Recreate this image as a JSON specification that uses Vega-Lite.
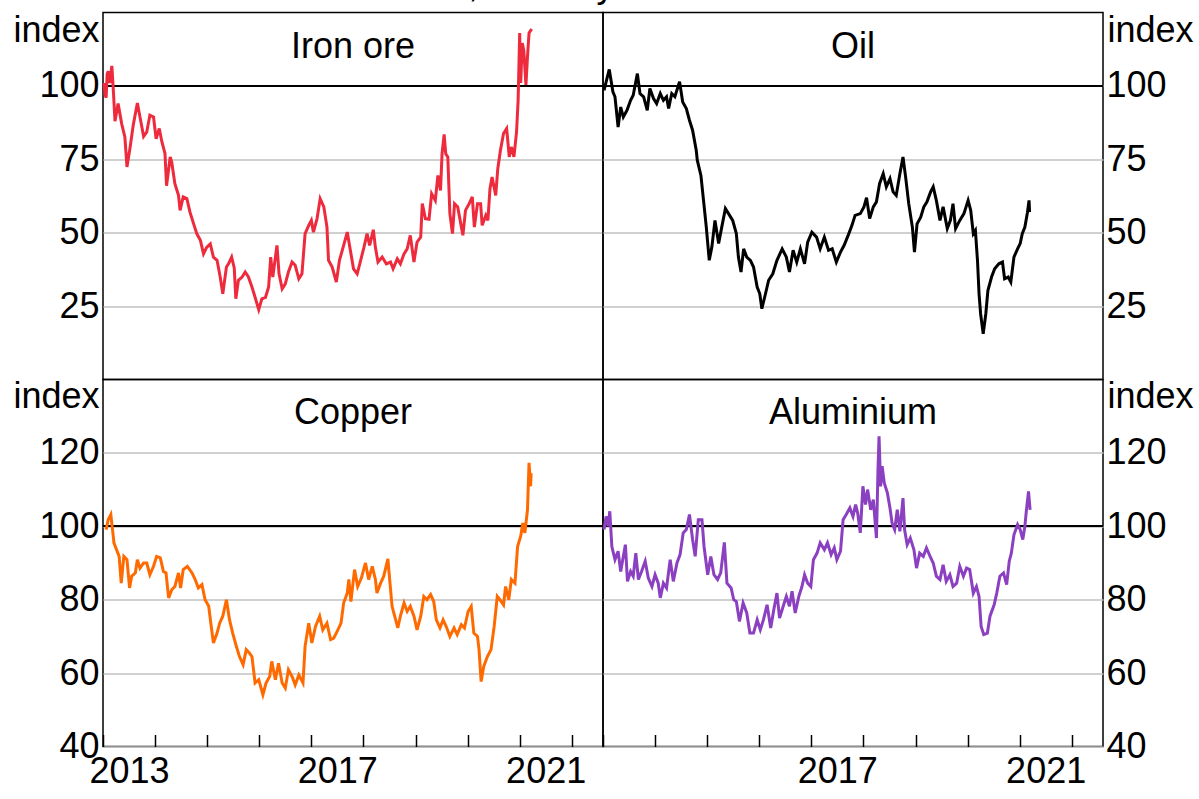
{
  "$schema": "https://vega.github.io/schema/vega-lite/v6.json",
  "background": "white",
  "padding": {"left": 12, "top": -32.5, "right": 0, "bottom": 0},
  "title": {"text": "Metal and oil indices, monthly", "anchor": "start", "frame": "bounds", "dx": 130, "baseline": "alphabetic", "offset": -21, "fontSize": 36, "fontWeight": "normal"},
  "columns": 2,
  "spacing": 0,
  "bounds": "flush",
  "config": {
    "font": "Liberation Sans",
    "view": {"stroke": "black", "strokeWidth": 1.5},
    "concat": {"spacing": 0},
    "axis": {"labelFont": "Liberation Sans", "labelFontSize": 36, "labelColor": "black", "titleFont": "Liberation Sans", "titleFontSize": 36, "titleFontWeight": "normal", "titleColor": "black"},
    "title": {"font": "Liberation Sans", "fontSize": 36, "fontWeight": "normal", "color": "black"}
  },
  "datasets": {
    "iron": [[2013.02,101],[2013.04,97],[2013.06,96],[2013.08,104],[2013.10,105],[2013.13,101],[2013.17,106.8],[2013.20,98],[2013.23,88],[2013.29,94],[2013.36,87],[2013.42,82.6],[2013.46,72.4],[2013.52,79],[2013.58,86.6],[2013.66,94.2],[2013.71,89.4],[2013.78,82.8],[2013.84,84.3],[2013.90,90],[2013.97,89.4],[2014.02,82],[2014.08,85.5],[2014.13,81],[2014.19,77],[2014.22,66],[2014.29,75.8],[2014.32,74],[2014.38,66.7],[2014.45,62.7],[2014.48,57.6],[2014.54,62.2],[2014.61,61.6],[2014.67,57],[2014.74,53],[2014.80,49.7],[2014.87,47.4],[2014.93,42.8],[2014.99,45],[2015.06,46.2],[2015.12,41.7],[2015.19,40.6],[2015.25,34.9],[2015.30,29.2],[2015.37,38.3],[2015.41,39.4],[2015.47,41.7],[2015.52,38],[2015.55,27.5],[2015.60,33.8],[2015.67,34.9],[2015.73,36.6],[2015.79,35],[2015.86,31.5],[2015.92,28],[2015.99,23.8],[2016.05,27.5],[2016.12,28],[2016.18,31.5],[2016.22,41.7],[2016.26,34.9],[2016.34,45.7],[2016.38,36],[2016.44,30.9],[2016.50,32.6],[2016.56,36.6],[2016.63,40],[2016.69,38.9],[2016.76,34.3],[2016.82,36],[2016.88,49.7],[2016.95,52.5],[2017.00,54.2],[2017.04,50.2],[2017.11,54.8],[2017.17,61.6],[2017.24,58.8],[2017.30,51.9],[2017.33,40.6],[2017.40,38.3],[2017.48,33.2],[2017.54,40.6],[2017.61,45],[2017.69,50.2],[2017.74,45],[2017.81,37.7],[2017.88,36],[2017.93,39.4],[2018.01,45],[2018.07,49.7],[2018.12,45.7],[2018.19,51],[2018.23,45],[2018.28,40],[2018.36,41.7],[2018.44,39.4],[2018.52,40],[2018.57,37.7],[2018.65,41.1],[2018.71,39.4],[2018.78,42.8],[2018.84,44.5],[2018.90,49.1],[2018.97,40],[2019.03,46.8],[2019.10,48.5],[2019.13,59.9],[2019.19,54.8],[2019.26,54.6],[2019.31,63.3],[2019.38,61],[2019.43,69.5],[2019.48,64.4],[2019.51,76.9],[2019.55,83.5],[2019.58,76.9],[2019.62,75.8],[2019.66,56.5],[2019.71,49.7],[2019.75,59.9],[2019.81,58.8],[2019.87,53],[2019.91,49.1],[2019.96,57.6],[2020.03,59.9],[2020.09,62.2],[2020.13,51.9],[2020.19,59.9],[2020.25,59.9],[2020.28,52.5],[2020.35,55.9],[2020.39,54.2],[2020.43,65],[2020.47,69],[2020.54,62.7],[2020.58,71.8],[2020.63,78],[2020.69,83.8],[2020.75,85.5],[2020.80,75.8],[2020.84,79.2],[2020.89,75.8],[2020.94,84.3],[2020.97,95],[2020.99,110],[2021.00,118],[2021.02,101],[2021.05,114.6],[2021.08,112],[2021.12,100.3],[2021.15,109.9],[2021.18,118],[2021.23,119.4]],
    "oil": [[2013.02,98.5],[2013.06,101.4],[2013.12,105.6],[2013.19,98],[2013.23,96.3],[2013.29,86],[2013.34,92.8],[2013.39,89.4],[2013.46,91.7],[2013.53,95.1],[2013.58,96.8],[2013.66,104.2],[2013.71,97.4],[2013.78,96.3],[2013.85,91.7],[2013.90,99.1],[2013.97,95.7],[2014.03,94],[2014.10,97.4],[2014.16,95.1],[2014.22,96.3],[2014.26,92.3],[2014.32,97.4],[2014.38,96.3],[2014.47,101.4],[2014.53,94.5],[2014.60,92.3],[2014.66,88.3],[2014.72,84.9],[2014.79,78.1],[2014.81,74.7],[2014.88,69.5],[2014.93,61],[2014.98,52.5],[2015.04,40.6],[2015.09,45.1],[2015.15,54.2],[2015.22,46.3],[2015.28,51.9],[2015.35,58.2],[2015.41,56.5],[2015.49,54.2],[2015.56,49.7],[2015.60,41.7],[2015.65,36.6],[2015.70,44.5],[2015.76,41.7],[2015.83,40.6],[2015.89,38.3],[2015.96,31.5],[2016.01,29.2],[2016.05,24.1],[2016.12,29.2],[2016.18,33.8],[2016.26,36],[2016.34,40.6],[2016.44,44.5],[2016.52,41.7],[2016.58,36.6],[2016.65,44],[2016.72,40],[2016.79,44.5],[2016.87,39.4],[2016.93,46.8],[2017.01,50.2],[2017.10,48.5],[2017.17,44.5],[2017.25,48.5],[2017.33,44],[2017.40,44.5],[2017.48,40],[2017.56,43.4],[2017.63,45.7],[2017.72,49.7],[2017.78,52.5],[2017.84,55.9],[2017.94,56.5],[2018.01,58.8],[2018.06,61.9],[2018.12,54.8],[2018.19,58.8],[2018.25,60.5],[2018.31,66.7],[2018.38,70.1],[2018.44,65.6],[2018.51,68.4],[2018.57,63.9],[2018.63,62.7],[2018.70,70.1],[2018.76,75.8],[2018.81,69],[2018.87,59.9],[2018.94,51.9],[2018.98,43.4],[2019.03,53],[2019.10,55.3],[2019.16,58.8],[2019.22,60.5],[2019.29,63.9],[2019.34,65.6],[2019.40,61],[2019.47,54.2],[2019.53,58.8],[2019.61,51.4],[2019.67,54.2],[2019.72,59.9],[2019.77,51.4],[2019.85,54.2],[2019.93,56.5],[2020.01,61],[2020.06,57.6],[2020.11,49.7],[2020.15,50.8],[2020.19,40.6],[2020.22,29.2],[2020.25,22.4],[2020.30,15.6],[2020.35,22.4],[2020.39,30.3],[2020.46,34.9],[2020.52,37.7],[2020.60,39.4],[2020.67,40],[2020.71,34.3],[2020.78,34.9],[2020.83,33.2],[2020.89,41.7],[2020.96,44.5],[2021.01,46.3],[2021.05,49.7],[2021.10,51.9],[2021.15,57],[2021.18,61],[2021.19,57]],
    "copper": [[2013.06,99.1],[2013.10,101.8],[2013.15,103.2],[2013.19,98.2],[2013.21,95.5],[2013.26,93.6],[2013.31,91.8],[2013.35,84.5],[2013.40,91.8],[2013.46,90.9],[2013.51,83.2],[2013.55,86.4],[2013.62,87.3],[2013.66,90.9],[2013.71,88.6],[2013.78,90],[2013.84,90],[2013.90,86.8],[2013.97,89.1],[2014.03,91.8],[2014.10,91.4],[2014.16,87.7],[2014.21,87.3],[2014.26,80.5],[2014.32,82.7],[2014.38,83.6],[2014.45,87.3],[2014.49,83.2],[2014.54,88.2],[2014.62,89.1],[2014.71,87.3],[2014.77,85.5],[2014.83,83.2],[2014.90,84.1],[2014.96,80],[2015.03,78.2],[2015.07,73.6],[2015.12,68.2],[2015.19,70.9],[2015.24,73.6],[2015.30,75.5],[2015.37,80],[2015.43,74.5],[2015.49,70.9],[2015.56,67.3],[2015.62,64.5],[2015.69,62.3],[2015.75,66.4],[2015.81,65.5],[2015.86,64.5],[2015.92,57.3],[2015.99,58.2],[2016.07,54.1],[2016.13,57.3],[2016.20,59.1],[2016.24,63.2],[2016.31,58.2],[2016.37,62.7],[2016.44,57.3],[2016.50,55.9],[2016.56,60.9],[2016.63,59.1],[2016.69,56.8],[2016.76,59.5],[2016.84,57.3],[2016.88,67.3],[2016.95,73.6],[2017.01,68.2],[2017.08,72.7],[2017.16,75.5],[2017.22,71.8],[2017.30,73.6],[2017.37,69.1],[2017.43,69.5],[2017.51,71.8],[2017.57,73.6],[2017.62,79.1],[2017.69,81.8],[2017.72,85.5],[2017.76,79.5],[2017.83,88.2],[2017.89,83.6],[2017.96,85.9],[2018.04,90],[2018.10,85.5],[2018.17,89.1],[2018.23,85.5],[2018.26,81.8],[2018.33,84.5],[2018.39,86.4],[2018.47,91.1],[2018.51,84.5],[2018.55,78.2],[2018.60,75.5],[2018.66,72.3],[2018.71,75.5],[2018.78,79.1],[2018.84,76.8],[2018.90,78.2],[2018.97,75.5],[2019.03,71.8],[2019.10,75.5],[2019.16,80.9],[2019.22,80],[2019.29,81.4],[2019.35,79.5],[2019.40,74.5],[2019.47,72.3],[2019.53,74.5],[2019.59,72.7],[2019.66,70],[2019.74,72.3],[2019.80,70.5],[2019.88,73.2],[2019.94,72.3],[2020.01,76.8],[2020.07,78.2],[2020.12,70.9],[2020.19,70],[2020.22,66.4],[2020.26,57.7],[2020.31,61.8],[2020.38,64.5],[2020.45,66.4],[2020.51,72.7],[2020.57,80.9],[2020.62,80],[2020.69,78.6],[2020.73,83.6],[2020.79,80],[2020.84,85.5],[2020.91,84.5],[2020.96,94.5],[2021.02,97.3],[2021.06,100.9],[2021.10,98.2],[2021.15,104.5],[2021.18,117.3],[2021.21,110.9],[2021.22,114.5]],
    "alum": [[2013.02,99.1],[2013.06,102.7],[2013.10,100],[2013.13,104.1],[2013.17,94.5],[2013.23,90.9],[2013.29,93.2],[2013.34,87.7],[2013.39,91.8],[2013.43,95],[2013.47,85],[2013.53,87.7],[2013.58,86.4],[2013.63,92.7],[2013.68,85.5],[2013.74,87.7],[2013.81,90.5],[2013.87,85.9],[2013.94,83.6],[2014.00,86.8],[2014.06,84.5],[2014.10,80.5],[2014.16,84.5],[2014.22,83.2],[2014.29,90.9],[2014.35,85],[2014.42,90],[2014.48,92.3],[2014.54,98.2],[2014.60,99.1],[2014.66,103.2],[2014.72,96.4],[2014.77,91.8],[2014.83,101.8],[2014.90,101.8],[2014.94,94.5],[2015.01,86.8],[2015.07,91.8],[2015.13,86.8],[2015.20,85.5],[2015.26,87.3],[2015.33,95.6],[2015.38,84.5],[2015.46,83.2],[2015.51,80],[2015.56,79.5],[2015.62,74.1],[2015.69,79.1],[2015.76,76.4],[2015.82,70.9],[2015.89,70.9],[2015.96,74.5],[2016.02,71.8],[2016.08,74.5],[2016.15,78.6],[2016.22,72.3],[2016.28,77.3],[2016.34,81.8],[2016.39,75],[2016.46,78.2],[2016.52,80.9],[2016.58,78.2],[2016.63,82.3],[2016.69,76.4],[2016.76,80.9],[2016.82,83.6],[2016.87,86.8],[2016.93,84.5],[2016.99,83.6],[2017.04,90.9],[2017.11,92.7],[2017.17,95.5],[2017.25,93.6],[2017.31,95.5],[2017.38,92.3],[2017.44,94.1],[2017.49,90.9],[2017.56,93.2],[2017.61,101.8],[2017.67,103.2],[2017.74,105],[2017.80,102.7],[2017.85,105.9],[2017.89,103.6],[2017.94,98.2],[2017.99,110.9],[2018.04,105.9],[2018.08,110],[2018.14,104.5],[2018.19,107.3],[2018.25,96.8],[2018.28,115.5],[2018.30,124.5],[2018.33,110.9],[2018.36,116.4],[2018.40,111.8],[2018.46,109.1],[2018.51,105],[2018.55,100.9],[2018.60,99.1],[2018.65,104.5],[2018.70,98.6],[2018.76,107.7],[2018.79,99.1],[2018.84,95],[2018.90,96.8],[2018.97,93.6],[2019.02,88.6],[2019.08,92.7],[2019.15,91.8],[2019.21,94.1],[2019.28,91.8],[2019.34,90],[2019.40,86.4],[2019.47,85.5],[2019.53,89.5],[2019.59,85],[2019.66,86.8],[2019.72,83.6],[2019.79,84.5],[2019.85,89.1],[2019.92,86.4],[2019.98,88.6],[2020.04,88.2],[2020.11,81.8],[2020.17,83.6],[2020.22,80.9],[2020.26,72.7],[2020.31,70.5],[2020.38,70.9],[2020.43,75.5],[2020.51,78.6],[2020.56,81.8],[2020.62,86.4],[2020.69,87.3],[2020.75,84.1],[2020.80,90.5],[2020.84,92.7],[2020.89,97.7],[2020.96,100.5],[2021.01,99.1],[2021.06,96.4],[2021.10,100],[2021.13,104.5],[2021.17,109.5],[2021.20,104.5]]
  },
  "concat": [
    {
      "width": 500, "height": 367,
      "title": {"text": "Iron ore", "offset": -53},
      "data": {"name": "iron"},
      "transform": [{"calculate": "datum[0]", "as": "t"}, {"calculate": "datum[1]", "as": "v"}],
      "layer": [
        {"mark": {"type": "rule", "color": "black", "strokeWidth": 1.5}, "encoding": {"y": {"datum": 100, "type": "quantitative"}}},
        {"mark": {"type": "line", "color": "#EE2A3D", "strokeWidth": 3},
         "encoding": {
           "x": {"field": "t", "type": "quantitative", "scale": {"domain": [2013, 2022.6], "nice": false, "zero": false}, "axis": null},
           "y": {"field": "v", "type": "quantitative", "scale": {"domain": [0, 125], "nice": false, "zero": false},
                 "axis": {"values": [25, 50, 75, 100], "ticks": false, "domain": false, "grid": true, "gridColor": "#c0c0c0", "gridWidth": 1.5, "labelPadding": 4, "title": "index", "titleAngle": 0, "titleAlign": "right", "titleBaseline": "middle", "titleX": -4, "titleY": 18}}
         }}
      ]
    },
    {
      "width": 500, "height": 367,
      "title": {"text": "Oil", "offset": -53},
      "data": {"name": "oil"},
      "transform": [{"calculate": "datum[0]", "as": "t"}, {"calculate": "datum[1]", "as": "v"}],
      "layer": [
        {"mark": {"type": "rule", "color": "black", "strokeWidth": 1.5}, "encoding": {"y": {"datum": 100, "type": "quantitative"}}},
        {"mark": {"type": "line", "color": "black", "strokeWidth": 3},
         "encoding": {
           "x": {"field": "t", "type": "quantitative", "scale": {"domain": [2013, 2022.6], "nice": false, "zero": false}, "axis": null},
           "y": {"field": "v", "type": "quantitative", "scale": {"domain": [0, 125], "nice": false, "zero": false},
                 "axis": {"orient": "right", "values": [25, 50, 75, 100], "ticks": false, "domain": false, "grid": true, "gridColor": "#c0c0c0", "gridWidth": 1.5, "labelPadding": 3, "title": "index", "titleAngle": 0, "titleAlign": "left", "titleBaseline": "middle", "titleX": 4, "titleY": 18}}
         }}
      ]
    },
    {
      "width": 500, "height": 367,
      "title": {"text": "Copper", "offset": -53},
      "data": {"name": "copper"},
      "transform": [{"calculate": "datum[0]", "as": "t"}, {"calculate": "datum[1]", "as": "v"}],
      "layer": [
        {"mark": {"type": "rule", "color": "black", "strokeWidth": 1.5}, "encoding": {"y": {"datum": 100, "type": "quantitative"}}},
        {"mark": {"type": "line", "color": "#FF6A00", "strokeWidth": 3},
         "encoding": {
           "x": {"field": "t", "type": "quantitative", "scale": {"domain": [2013, 2022.6], "nice": false, "zero": false},
                 "axis": {"values": [2013, 2014, 2015, 2016, 2017, 2018, 2019, 2020, 2021, 2022], "format": "d", "labelExpr": "indexof([2013, 2017, 2021], datum.value) >= 0 ? datum.label : ''", "labelOffset": 26, "labelFlush": false, "labelOverlap": false, "labelPadding": 20, "tickSize": -12, "tickColor": "black", "tickWidth": 1.5, "grid": false, "domain": false, "title": null}},
           "y": {"field": "v", "type": "quantitative", "scale": {"domain": [40, 140], "nice": false, "zero": false},
                 "axis": {"values": [40, 60, 80, 100, 120], "ticks": false, "domain": false, "grid": true, "gridColor": "#c0c0c0", "gridWidth": 1.5, "labelPadding": 4, "title": "index", "titleAngle": 0, "titleAlign": "right", "titleBaseline": "middle", "titleX": -4, "titleY": 17}}
         }}
      ]
    },
    {
      "width": 500, "height": 367,
      "title": {"text": "Aluminium", "offset": -53},
      "data": {"name": "alum"},
      "transform": [{"calculate": "datum[0]", "as": "t"}, {"calculate": "datum[1]", "as": "v"}],
      "layer": [
        {"mark": {"type": "rule", "color": "black", "strokeWidth": 1.5}, "encoding": {"y": {"datum": 100, "type": "quantitative"}}},
        {"mark": {"type": "line", "color": "#8B3FC1", "strokeWidth": 3},
         "encoding": {
           "x": {"field": "t", "type": "quantitative", "scale": {"domain": [2013, 2022.6], "nice": false, "zero": false},
                 "axis": {"values": [2013, 2014, 2015, 2016, 2017, 2018, 2019, 2020, 2021, 2022], "format": "d", "labelExpr": "indexof([2017, 2021], datum.value) >= 0 ? datum.label : ''", "labelOffset": 26, "labelFlush": false, "labelOverlap": false, "labelPadding": 20, "tickSize": -12, "tickColor": "black", "tickWidth": 1.5, "grid": false, "domain": false, "title": null}},
           "y": {"field": "v", "type": "quantitative", "scale": {"domain": [40, 140], "nice": false, "zero": false},
                 "axis": {"orient": "right", "values": [40, 60, 80, 100, 120], "ticks": false, "domain": false, "grid": true, "gridColor": "#c0c0c0", "gridWidth": 1.5, "labelPadding": 3, "title": "index", "titleAngle": 0, "titleAlign": "left", "titleBaseline": "middle", "titleX": 4, "titleY": 17}}
         }}
      ]
    }
  ]
}
